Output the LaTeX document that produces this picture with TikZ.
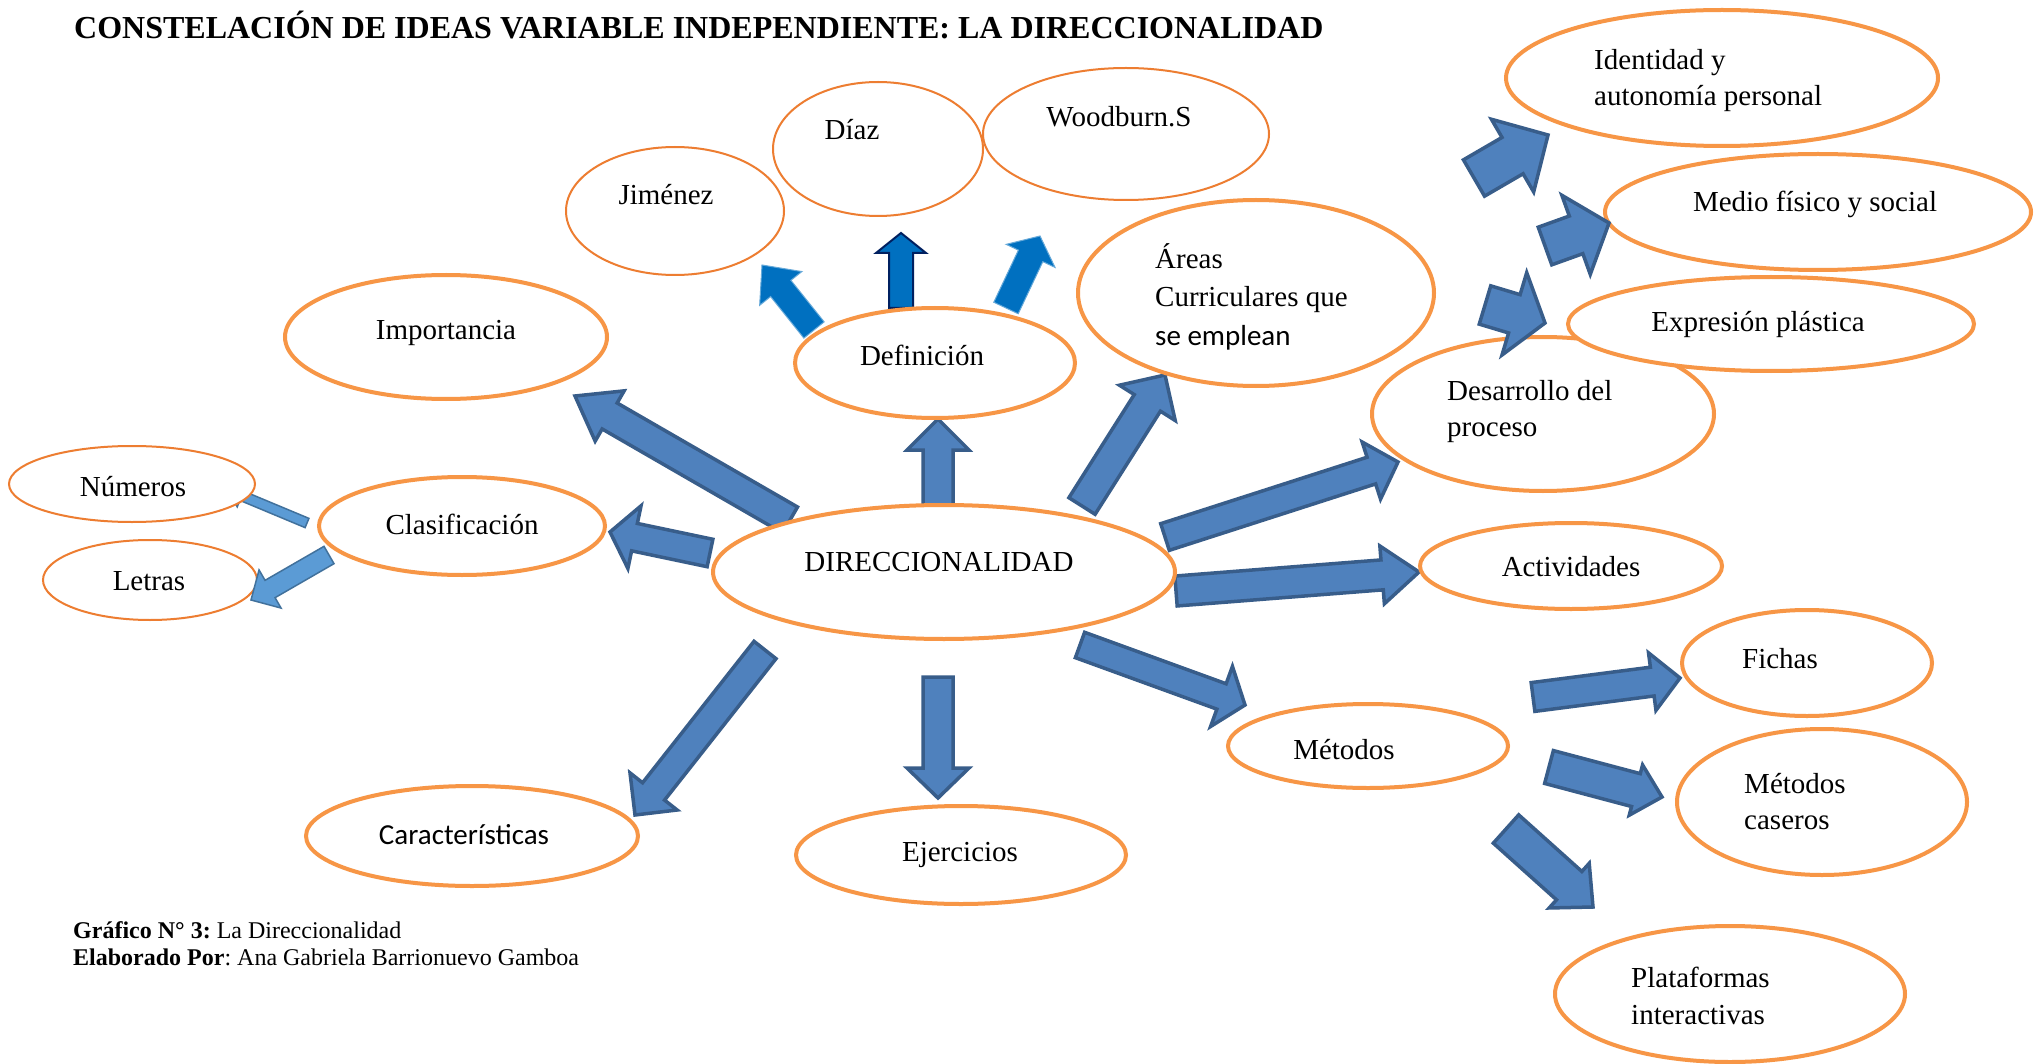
\documentclass[tikz,border=0pt]{standalone}
\usepackage{fontspec}
\setmainfont{Liberation Serif}
\newfontfamily\calfont{Carlito}
\usetikzlibrary{shapes.geometric,calc}
\pgfdeclarelayer{bg}
\pgfsetlayers{bg,main}
\frenchspacing
\definecolor{orng}{HTML}{F79646}
\definecolor{orngthin}{HTML}{ED7D31}
\definecolor{arrfill}{HTML}{4F81BD}
\definecolor{arrdraw}{HTML}{385D8A}
\definecolor{defblue}{HTML}{0070C0}
\definecolor{navy}{HTML}{002060}
\definecolor{lightfill}{HTML}{5B9BD5}
\definecolor{lightdraw}{HTML}{41719C}
% block arrow: [style]{tail}{tip}{half shaft}{half head}{head length}
\newcommand\blockarr[6][]{%
  \coordinate (ba-q) at ($(#3)!#6!(#2)$);
  \draw[#1] ($(#2)!#4!90:(#3)$) -- ($(ba-q)!#4!90:(#3)$) -- ($(ba-q)!#5!90:(#3)$)
    -- (#3) -- ($(ba-q)!#5!-90:(#3)$) -- ($(ba-q)!#4!-90:(#3)$) -- ($(#2)!#4!-90:(#3)$) -- cycle;}
\tikzset{
  oval/.style={ellipse, draw=orng, line width=4pt, fill=white, inner sep=0pt},
  thinoval/.style={ellipse, draw=orngthin, line width=2pt, fill=white, inner sep=0pt},
  txt/.style={font=\fontsize{29}{36}\selectfont, inner sep=0pt, anchor=base, yshift=-2pt},
  txtl/.style={txt, anchor=base west},
  barr/.style={fill=arrfill, draw=arrdraw, line width=3.5pt, line join=miter},
  darr/.style={fill=defblue, draw=defblue!60, line width=1pt, line join=miter},
  darrn/.style={fill=defblue, draw=navy, line width=2pt, line join=miter},
  larr/.style={fill=lightfill, draw=lightdraw, line width=1.5pt, line join=miter},
}
\begin{document}
\begin{tikzpicture}[x=1pt,y=-1pt]
\useasboundingbox (0,0) rectangle (2039,1064);

% title and captions
\node[inner sep=0pt, anchor=base west, font=\fontsize{32}{38}\selectfont\bfseries] (title) at (74,39)
  {CONSTELACIÓN DE IDEAS VARIABLE INDEPENDIENTE: LA DIRECCIONALIDAD};
\node[inner sep=0pt, anchor=base west, font=\fontsize{24}{28}\selectfont] (cap1) at (73,938)
  {\textbf{Gráfico N° 3:} La Direccionalidad};
\node[inner sep=0pt, anchor=base west, font=\fontsize{24}{28}\selectfont] (cap2) at (73,965)
  {\textbf{Elaborado Por}: Ana Gabriela Barrionuevo Gamboa};

% ellipses
\node[oval, minimum width=462pt, minimum height=134pt] (dir) at (944,572) {};
\node[oval, minimum width=280pt, minimum height=110pt] (defi) at (935,363) {};
\node[oval, minimum width=322pt, minimum height=124pt] (impo) at (446,337) {};
\node[oval, minimum width=286pt, minimum height=98pt] (clas) at (462,526) {};
\node[thinoval, minimum width=246pt, minimum height=76pt] (nume) at (132,484) {};
\node[thinoval, minimum width=214pt, minimum height=80pt] (letr) at (150,580) {};
\node[oval, minimum width=332pt, minimum height=100pt] (cara) at (472,836) {};
\node[oval, minimum width=330pt, minimum height=98pt] (ejer) at (961,855) {};
\node[oval, minimum width=280pt, minimum height=84pt] (meto) at (1368,746) {};
\node[oval, minimum width=302pt, minimum height=86pt] (acti) at (1571,566) {};
\node[oval, minimum width=342pt, minimum height=154pt] (desa) at (1543,414) {};
\node[oval, minimum width=406pt, minimum height=94pt] (expr) at (1771,324) {};
\node[oval, minimum width=426pt, minimum height=116pt] (medi) at (1818,212) {};
\node[oval, minimum width=432pt, minimum height=136pt] (iden) at (1722,78) {};
\node[oval, minimum width=250pt, minimum height=106pt] (fich) at (1807,663) {};
\node[oval, minimum width=290pt, minimum height=146pt] (case) at (1822,802) {};
\node[oval, minimum width=350pt, minimum height=136pt] (plat) at (1730,994) {};
\node[oval, minimum width=356pt, minimum height=186pt] (area) at (1256,293) {};
\node[thinoval, minimum width=218pt, minimum height=128pt] (jime) at (675,211) {};
\node[thinoval, minimum width=210pt, minimum height=134pt] (diaz) at (878,149) {};
\node[thinoval, minimum width=286pt, minimum height=132pt] (wood) at (1126,134) {};

% texts
\node[txt] (dir-t) at (939,569) {DIRECCIONALIDAD};
\node[txt] (defi-t) at (922,363) {Definición};
\node[txt] (impo-t) at (446,338) {Importancia};
\node[txt] (clas-t) at (462,532) {Clasificación};
\node[txt] (nume-t) at (133,494) {Números};
\node[txt] (letr-t) at (149,588) {Letras};
\node[txt, font=\fontsize{29}{36}\selectfont\calfont] (cara-t) at (464,842) {Características};
\node[txt] (ejer-t) at (960,859) {Ejercicios};
\node[txt] (meto-t) at (1344,757) {Métodos};
\node[txt] (acti-t) at (1571,574) {Actividades};
\node[txtl] (desa-t1) at (1447,398) {Desarrollo del};
\node[txtl] (desa-t2) at (1447,434) {proceso};
\node[txt] (expr-t) at (1758,330) {Expresión plástica};
\node[txt] (medi-t) at (1815,210) {Medio físico y social};
\node[txtl] (iden-t1) at (1594,68) {Identidad y};
\node[txtl] (iden-t2) at (1594,104) {autonomía personal};
\node[txt] (fich-t) at (1780,666) {Fichas};
\node[txtl] (case-t1) at (1744,791) {Métodos};
\node[txtl] (case-t2) at (1744,827) {caseros};
\node[txtl] (plat-t1) at (1631,985) {Plataformas};
\node[txtl] (plat-t2) at (1631,1022) {interactivas};
\node[txtl] (area-t1) at (1155,267) {Áreas};
\node[txtl] (area-t2) at (1155,305) {Curriculares que};
\node[txtl, font=\fontsize{29}{36}\selectfont\calfont] (area-t3) at (1155,343) {se emplean};
\node[txt] (jime-t) at (666,203) {Jiménez};
\node[txt] (diaz-t) at (852,138) {Díaz};
\node[txt] (wood-t) at (1119,125) {Woodburn.S};

% arrow end points
\coordinate (a1s) at (790,520);  \coordinate (a1e) at (575,396);
\coordinate (a2s) at (710,553);  \coordinate (a2e) at (610,532);
\coordinate (a3s) at (938,505);  \coordinate (a3e) at (938,419);
\coordinate (a4s) at (1082,506); \coordinate (a4e) at (1165,375);
\coordinate (a5s) at (1165,537); \coordinate (a5e) at (1398,462);
\coordinate (a6s) at (1176,591); \coordinate (a6e) at (1419,572);
\coordinate (a7s) at (1080,645); \coordinate (a7e) at (1245,705);
\coordinate (a8s) at (938,677);  \coordinate (a8e) at (938,798);
\coordinate (a9s) at (765,650);  \coordinate (a9e) at (635,815);
\coordinate (b1s) at (1474,178); \coordinate (b1e) at (1548,135);
\coordinate (b2s) at (1545,246); \coordinate (b2e) at (1609,223);
\coordinate (b3s) at (1485,305); \coordinate (b3e) at (1545,323);
\coordinate (c1s) at (1533,697); \coordinate (c1e) at (1680,678);
\coordinate (c2s) at (1549,767); \coordinate (c2e) at (1662,797);
\coordinate (c3s) at (1506,829); \coordinate (c3e) at (1593,907);
\coordinate (d1s) at (814,330);  \coordinate (d1e) at (762,265);
\coordinate (d2s) at (901,308);  \coordinate (d2e) at (901,233);
\coordinate (d3s) at (1006,308); \coordinate (d3e) at (1040,236);
\coordinate (e1s) at (307,523);  \coordinate (e1e) at (228,490);
\coordinate (e2s) at (329,555);  \coordinate (e2e) at (251,600);

\begin{pgfonlayer}{bg}
\fill[white] (0,0) rectangle (2039,1064);
\blockarr[barr]{a1s}{a1e}{15pt}{29pt}{40pt}
\blockarr[barr]{a2s}{a2e}{14pt}{32pt}{25pt}
\blockarr[barr]{a3s}{a3e}{15pt}{31pt}{31pt}
\blockarr[barr]{a4s}{a4e}{15.5pt}{33pt}{33pt}
\blockarr[barr]{a5s}{a5e}{14pt}{30pt}{28pt}
\blockarr[barr]{a6s}{a6e}{15pt}{29pt}{37pt}
\blockarr[barr]{a7s}{a7e}{13.5pt}{32pt}{25pt}
\blockarr[barr]{a8s}{a8e}{15pt}{31pt}{30pt}
\blockarr[barr]{a9s}{a9e}{14pt}{30pt}{30pt}
\blockarr[darr]{d1s}{d1e}{13pt}{27pt}{30pt}
\blockarr[darrn]{d2s}{d2e}{12pt}{25pt}{20pt}
\blockarr[darr]{d3s}{d3e}{13.5pt}{27pt}{22pt}
\blockarr[larr]{e1s}{e1e}{5pt}{12pt}{15pt}
\end{pgfonlayer}

\blockarr[barr]{b1s}{b1e}{21pt}{42pt}{41pt}
\blockarr[barr]{b2s}{b2e}{20pt}{42pt}{35pt}
\blockarr[barr]{b3s}{b3e}{20pt}{43pt}{32pt}
\blockarr[barr]{c1s}{c1e}{14.5pt}{29pt}{28pt}
\blockarr[barr]{c2s}{c2e}{17pt}{26pt}{27pt}
\blockarr[barr]{c3s}{c3e}{19pt}{30pt}{32pt}
\blockarr[larr]{e2s}{e2e}{10pt}{22pt}{22pt}
\end{tikzpicture}
\end{document}
